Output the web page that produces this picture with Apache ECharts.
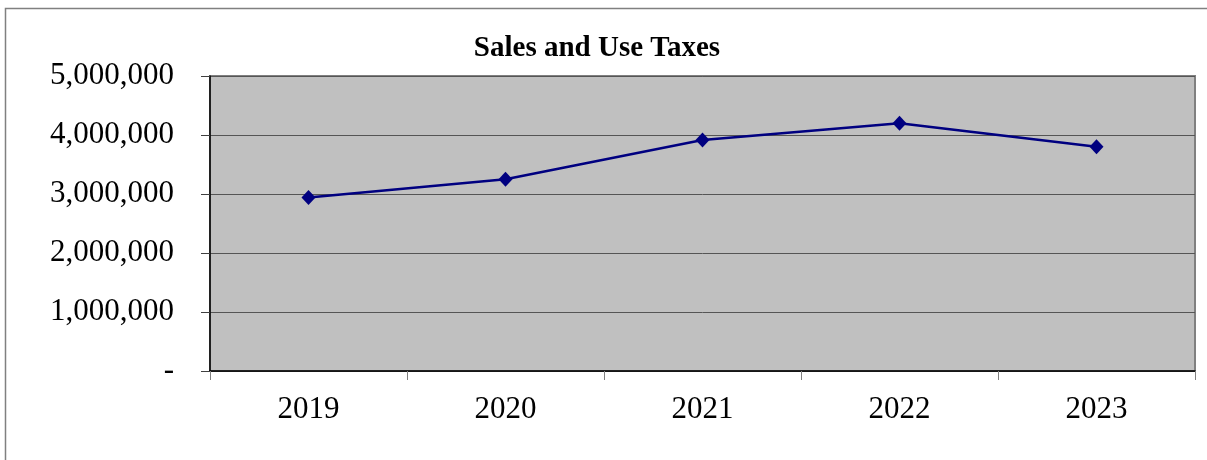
<!DOCTYPE html>
<html>
<head>
<meta charset="utf-8">
<script src="https://cdn.jsdelivr.net/npm/echarts@6/dist/echarts.min.js"></script>
<style>
  html, body { margin: 0; padding: 0; background: #ffffff; }
  #chart { width: 1207px; height: 460px; }
</style>
</head>
<body>
<div id="chart"></div>
<script>
// Sales and use tax revenue by year
const years = ['2019', '2020', '2021', '2022', '2023'];
const salesUseTaxes = [2940000, 3250000, 3915000, 4200000, 3800000];
const yTicks = [0, 1000000, 2000000, 3000000, 4000000, 5000000];

const serif = "'Liberation Serif', 'Times New Roman', 'DejaVu Serif', serif";

const chart = echarts.init(document.getElementById('chart'), null, { renderer: 'canvas' });

chart.setOption({
  animation: false,
  backgroundColor: '#ffffff',
  graphic: [
    {
      type: 'rect',
      left: 3, top: 6,
      shape: { width: 1220, height: 470 },
      style: { fill: 'none', stroke: '#808080', lineWidth: 1.5 },
      z: -1
    },
    {
      type: 'text',
      x: 597, y: 49,
      style: {
        text: 'Sales and Use Taxes',
        font: 'bold 29px ' + serif,
        fill: '#000000',
        textAlign: 'center',
        textVerticalAlign: 'middle'
      }
    }
  ],
  grid: {
    left: 210, top: 76, right: 12, bottom: 89,
    show: true,
    backgroundColor: '#c0c0c0',
    borderColor: '#808080',
    borderWidth: 2
  },
  xAxis: {
    type: 'category',
    data: years,
    boundaryGap: true,
    axisLine: { show: true, lineStyle: { color: '#000000', width: 1.5 } },
    axisTick: { show: true, alignWithLabel: false, length: 9, lineStyle: { color: '#808080', width: 1 } },
    axisLabel: { color: '#000000', fontFamily: serif, fontSize: 31, margin: 23 },
    splitLine: { show: false }
  },
  yAxis: {
    type: 'value',
    min: yTicks[0],
    max: yTicks[yTicks.length - 1],
    interval: yTicks[1] - yTicks[0],
    axisLine: { show: true, lineStyle: { color: '#000000', width: 1.5 } },
    axisTick: { show: true, length: 9, lineStyle: { color: '#404040', width: 1 } },
    axisLabel: {
      color: '#000000', fontFamily: serif, fontSize: 31, margin: 36,
      padding: [3, 0, 0, 0],
      formatter: v => v === 0 ? '-' : v.toLocaleString('en-US')
    },
    splitLine: { show: true, lineStyle: { color: '#555555', width: 1 } }
  },
  series: [
    {
      type: 'line',
      data: salesUseTaxes,
      symbol: 'diamond',
      symbolSize: [14, 15],
      showAllSymbol: true,
      lineStyle: { color: '#000080', width: 2.5 },
      itemStyle: { color: '#000080', borderColor: '#000080', borderWidth: 0 },
      z: 5
    }
  ]
});
</script>
</body>
</html>
